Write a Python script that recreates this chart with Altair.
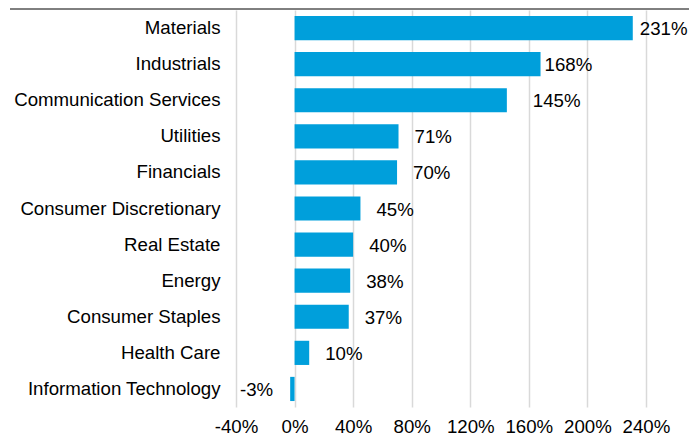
import altair as alt
import pandas as pd

categories = [
    "Materials", "Industrials", "Communication Services", "Utilities",
    "Financials", "Consumer Discretionary", "Real Estate", "Energy",
    "Consumer Staples", "Health Care", "Information Technology",
]
values = [231, 168, 145, 71, 70, 45, 40, 38, 37, 10, -3]
tick_values = [-40, 0, 40, 80, 120, 160, 200, 240]

df = pd.DataFrame({"sector": categories, "value": values})
df["label"] = [f"{v}%" for v in values]

FONT = "Liberation Sans"
FS = 18.67
W = 453
H = 397

x = alt.X(
    "value:Q",
    scale=alt.Scale(domain=[-40, 269.4], nice=False, zero=False),
    axis=alt.Axis(
        values=tick_values, labelExpr="datum.value + '%'", grid=True,
        gridColor="#D9D9D9", gridWidth=1.5, domain=False, ticks=False,
        labelPadding=10, labelFontSize=FS, labelFont=FONT, labelColor="black",
        title=None, labelFlush=False, labelOverlap=False,
    ),
)
y = alt.Y(
    "sector:N", sort=categories,
    scale=alt.Scale(paddingInner=0.33, paddingOuter=0.165),
    axis=alt.Axis(domain=False, ticks=False, labelPadding=16, labelFontSize=FS,
                  labelFont=FONT, labelColor="black", title=None, labelLimit=400,
                  grid=False),
)

base = alt.Chart(df)
bars = base.mark_bar(color="#009FDB").encode(x=x, y=y)


def value_labels(filter_expr, align, dx):
    return base.transform_filter(filter_expr).mark_text(
        align=align, baseline="middle", dx=dx, dy=1, font=FONT, fontSize=FS, color="black"
    ).encode(x="value:Q", y=alt.Y("sector:N", sort=categories), text="label:N")


labels_default = value_labels(
    "datum.value >= 0 && datum.sector != 'Materials' && datum.sector != 'Industrials'"
    " && datum.sector != 'Communication Services'", "left", 16)
labels_materials = value_labels("datum.sector == 'Materials'", "left", 7)
labels_industrials = value_labels("datum.sector == 'Industrials'", "left", 4)
labels_comm = value_labels("datum.sector == 'Communication Services'", "left", 26)
labels_neg = value_labels("datum.value < 0", "right", -17)

top_rule = alt.Chart(pd.DataFrame({"a": [0]})).mark_rule(color="black", strokeWidth=1).encode(
    x=alt.value(-226), x2=alt.value(W), y=alt.value(-1)
)

chart = alt.layer(
    bars, labels_default, labels_materials, labels_industrials, labels_comm,
    labels_neg, top_rule,
).properties(
    width=W, height=H,
    autosize=alt.AutoSizeParams(type="none"),
    padding={"left": 228, "top": 2, "right": 0, "bottom": 29},
).configure_view(stroke=None)

chart.save("out.html", embed_options={"renderer": "svg", "actions": False})
